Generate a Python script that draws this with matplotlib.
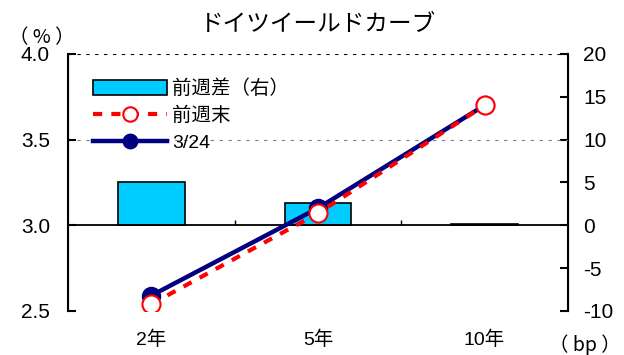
import matplotlib.pyplot as plt
import numpy as np

plt.rcParams['font.family'] = ['Liberation Sans', 'Noto Sans CJK JP', 'DejaVu Sans']
plt.rcParams['axes.unicode_minus'] = False
cjk = ['Noto Sans CJK JP', 'DejaVu Sans']

categories = ['2年', '5年', '10年']
yield_now = [2.59, 3.10, 3.70]      # 3/24
yield_prev = [2.54, 3.07, 3.70]     # 前週末
diff_bp = [5.1, 2.6, 0.1]           # 前週差（右）

x = np.arange(len(categories))

fig = plt.figure(figsize=(6.24, 3.55), dpi=100)
ax = fig.add_axes([0.109, 0.124, 0.801, 0.724])
ax2 = ax.twinx()

# bars on right axis, lines on left axis drawn on top
ax.set_zorder(ax2.get_zorder() + 1)
ax.patch.set_visible(False)

bars = ax2.bar(x, diff_bp, width=0.4, color='#00CCFF', edgecolor='black', linewidth=1.2)
ax2.axhline(0, color='black', linewidth=1.3, zorder=1)
ax2.vlines([0.5, 1.5], 0, 0.6, color='black', linewidth=1)

l1, = ax.plot(x, yield_prev, color='red', linestyle=(0, (2.2, 2.2)), linewidth=3,
              marker='o', markersize=13, markerfacecolor='white', markeredgecolor='red',
              markeredgewidth=1.5, zorder=4)
l2, = ax.plot(x, yield_now, color='#000080', linewidth=3.2,
              marker='o', markersize=13, markerfacecolor='#000080', zorder=3)

ax.set_xlim(-0.5, 2.5)
ax.set_ylim(2.5, 4.0)
ax2.set_ylim(-10, 20)
ax.set_yticks([2.5, 3.0, 3.5, 4.0])
ax.set_yticklabels(['2.5', '3.0', '3.5', '4.0'])
ax2.set_yticks([-10, -5, 0, 5, 10, 15, 20])
ax.set_xticks(x)
ax.set_xticklabels(categories)

for a in (ax, ax2):
    a.spines['top'].set_visible(False)
    a.spines['bottom'].set_visible(False)
ax.spines['left'].set_linewidth(1.5)
ax2.spines['right'].set_linewidth(1.5)

ax.tick_params(axis='y', direction='in', length=6, width=1.5, labelsize=15, pad=13)
ax2.tick_params(axis='y', direction='in', length=6, width=1.5, labelsize=15, pad=11)
ax.tick_params(axis='x', length=0, labelsize=14, pad=14)

# grid lines
for v, c in [(4.0, 'black'), (3.5, 'gray'), (2.5, 'gray')]:
    ax.axhline(v, color=c, linestyle=(0, (3, 5)), linewidth=0.8, zorder=0)

ax.legend([bars, l1, l2], ['前週差（右）', '前週末', '3/24'], loc='upper left',
          bbox_to_anchor=(0.05, 0.9), frameon=False,
          prop={'family': ['Liberation Sans', 'Noto Sans CJK JP'], 'size': 14},
          handlelength=3.8, handleheight=0.8, handletextpad=0.25, labelspacing=0.45,
          borderaxespad=0, borderpad=0, markerscale=0.8)

fig.text(0.51, 0.93, 'ドイツイールドカーブ', ha='center', va='center', fontsize=17, family=cjk)
fig.text(0.067, 0.895, '（ % ）', ha='center', va='center', fontsize=14, family=cjk)
fig.text(0.937, 0.028, '（ bp ）', ha='center', va='center', fontsize=14, family=cjk)

fig.savefig('out.png', dpi=100)
